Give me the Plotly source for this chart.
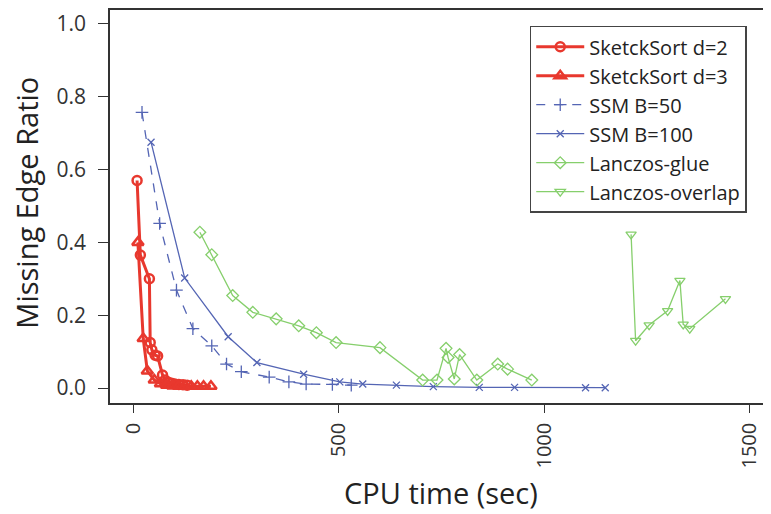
import plotly.graph_objects as go

# ---- data ----
ss2_x = [8, 16, 38, 40, 44, 52, 58, 70, 76, 84, 92, 100, 110, 120, 130]
ss2_y = [0.570, 0.365, 0.300, 0.125, 0.105, 0.090, 0.088, 0.036, 0.022, 0.016, 0.013, 0.011, 0.010, 0.009, 0.008]

ss3_x = [10, 23, 33, 50, 65, 80, 95, 110, 125, 140, 155, 170, 188]
ss3_y = [0.400, 0.136, 0.047, 0.022, 0.012, 0.008, 0.006, 0.006, 0.005, 0.005, 0.005, 0.005, 0.005]

ssm50_x = [20, 63, 104, 144, 190, 226, 262, 330, 378, 420, 484, 530]
ssm50_y = [0.757, 0.452, 0.269, 0.163, 0.116, 0.066, 0.045, 0.030, 0.017, 0.011, 0.010, 0.008]

ssm100_x = [42, 124, 230, 300, 414, 502, 558, 640, 730, 842, 928, 1101, 1149]
ssm100_y = [0.675, 0.302, 0.141, 0.070, 0.038, 0.017, 0.011, 0.008, 0.004, 0.002, 0.002, 0.001, 0.001]

glue_x = [161, 190, 241, 290, 347, 402, 445, 493, 600, 704, 739, 761, 766, 781, 794, 836, 887, 911, 970]
glue_y = [0.428, 0.366, 0.254, 0.208, 0.190, 0.171, 0.152, 0.125, 0.111, 0.022, 0.022, 0.109, 0.084, 0.025, 0.092, 0.022, 0.066, 0.052, 0.022]

ovl_x = [1212, 1223, 1256, 1301, 1331, 1339, 1355, 1442]
ovl_y = [0.422, 0.130, 0.173, 0.212, 0.295, 0.175, 0.163, 0.245]

x_ticks = [0, 500, 1000, 1500]
y_ticks = [0.0, 0.2, 0.4, 0.6, 0.8, 1.0]

x_title = "CPU time (sec)"
y_title = "Missing Edge Ratio"

RED = "#E8382E"
BLUE = "#5465B4"
GREEN = "#86CF6C"

fig = go.Figure()

def add(name, xs, ys, color, width, dash, symbol, msize, mlw):
    fig.add_trace(go.Scatter(
        x=xs, y=ys, name=name, mode="lines+markers",
        line=dict(color=color, width=width, dash=dash),
        marker=dict(symbol=symbol, size=msize, color=color,
                    line=dict(color=color, width=mlw)),
    ))

add("SketckSort d=2", ss2_x, ss2_y, RED, 3, "solid", "circle-open", 9, 2.5)
add("SketckSort d=3", ss3_x, ss3_y, RED, 3, "solid", "triangle-up-open", 10, 2.5)
add("SSM B=50", ssm50_x, ssm50_y, BLUE, 1.3, "dash", "cross-thin-open", 9, 1.3)
add("SSM B=100", ssm100_x, ssm100_y, BLUE, 1.3, "solid", "x-thin-open", 7, 1.3)
add("Lanczos-glue", glue_x, glue_y, GREEN, 1.3, "solid", "diamond-open", 9, 1.3)
add("Lanczos-overlap", ovl_x, ovl_y, GREEN, 1.3, "solid", "triangle-down-open", 9, 1.3)

FONT = "Open Sans"

# The page body has an 8px margin, so the figure is sized to fit inside the window.
fig.update_layout(
    width=763, height=506,
    margin=dict(l=102, r=0, t=2, b=111),
    paper_bgcolor="white", plot_bgcolor="white",
    font=dict(family=FONT, color="#2a2a2a"),
    showlegend=True,
    legend=dict(
        x=0.635, y=0.96, xanchor="left", yanchor="top",
        bgcolor="white", bordercolor="#444444", borderwidth=1.5,
        font=dict(family=FONT, size=20, color="#222222"),
        tracegroupgap=0, itemwidth=48,
    ),
    annotations=[
        dict(text=x_title, xref="paper", yref="paper", x=0.5, y=-0.2265,
             xanchor="center", yanchor="middle", showarrow=False,
             font=dict(family=FONT, size=29, color="#222")),
        dict(text=y_title, xref="paper", yref="paper", x=-0.126, y=0.509,
             xanchor="center", yanchor="middle", showarrow=False, textangle=-90,
             font=dict(family=FONT, size=29, color="#222")),
    ],
)

fig.update_xaxes(
    range=[-58, 1553], tickvals=x_ticks, ticktext=[str(v) for v in x_ticks],
    tickangle=-90, ticks="outside", ticklen=8, tickwidth=1.3, tickcolor="#333",
    showline=True, linecolor="#333", linewidth=1.5, mirror=True,
    showgrid=False, zeroline=False, automargin=False,
    tickfont=dict(family=FONT, size=20, color="#333"),
    ticklabelstandoff=2,
)
fig.update_yaxes(
    range=[-0.041, 1.038], tickvals=y_ticks, ticktext=["%.1f" % v for v in y_ticks],
    ticks="outside", ticklen=10, tickwidth=1.3, tickcolor="#333",
    showline=True, linecolor="#333", linewidth=1.5, mirror=False,
    showgrid=False, zeroline=False, automargin=False,
    tickfont=dict(family=FONT, size=21, color="#333"),
    ticklabelstandoff=8,
)

fig.write_html("out.html")
